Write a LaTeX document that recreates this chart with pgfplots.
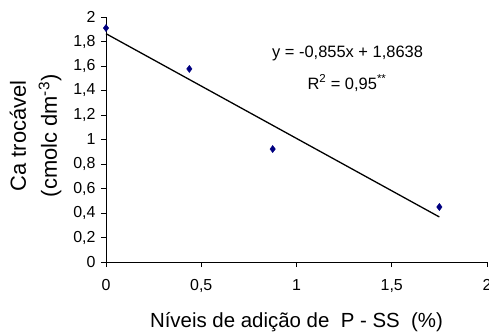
\documentclass[border=0pt]{standalone}
\usepackage{fontspec}
\setmainfont{Liberation Sans}
\usepackage{pgfplots}
\pgfplotsset{compat=1.18}
\begin{document}
\begin{tikzpicture}
\useasboundingbox (0,0) rectangle (489bp,335bp);
\begin{axis}[
  at={(106bp,73bp)}, anchor=south west,
  scale only axis, width=381bp, height=245bp,
  xmin=0, xmax=2, ymin=0, ymax=2,
  axis x line=bottom, axis y line=left,
  axis line style={-, line width=0.8pt},
  xtick={0,0.5,1,1.5,2},
  ytick={0,0.2,0.4,0.6,0.8,1,1.2,1.4,1.6,1.8,2},
  tick align=outside, major tick length=5bp,
  tick style={black, line width=0.8pt},
  /pgf/number format/.cd, use comma, 1000 sep={}, assume math mode=true,
  /pgfplots/.cd,
  tick label style={font=\fontsize{16}{16}\selectfont},
  xticklabel style={yshift=-9bp},
  yticklabel style={xshift=-2bp},
  xlabel={N\'iveis de adi\c{c}\~ao de\ \ P - SS\ \ (\%)},
  xlabel style={font=\fontsize{20.5}{20.5}\selectfont, at={(axis description cs:0.5,0)}, anchor=center, yshift=-60bp},
  ylabel={Ca troc\'avel\\(cmolc dm\textsuperscript{-3})},
  ylabel style={font=\fontsize{22}{31}\selectfont, align=center, at={(axis description cs:-0.185,0.515)}, anchor=center, rotate=0},
  clip=false,
]
\addplot[black, line width=1.3pt] coordinates {(0,1.8638) (1.75,0.3676)};
\addplot[only marks, mark=diamond*, mark size=3.6bp, color={rgb,255:red,0;green,0;blue,128}] coordinates {(0,1.91) (0.4375,1.576) (0.875,0.922) (1.75,0.449)};
\node[font=\fontsize{16.5}{16.5}\selectfont, anchor=center] at (axis cs:1.268,1.70) {y = -0,855x + 1,8638};
\node[font=\fontsize{16.5}{16.5}\selectfont, anchor=center] at (axis cs:1.265,1.46) {R\textsuperscript{2} = 0,95\textsuperscript{**}};
\end{axis}
\end{tikzpicture}
\end{document}
